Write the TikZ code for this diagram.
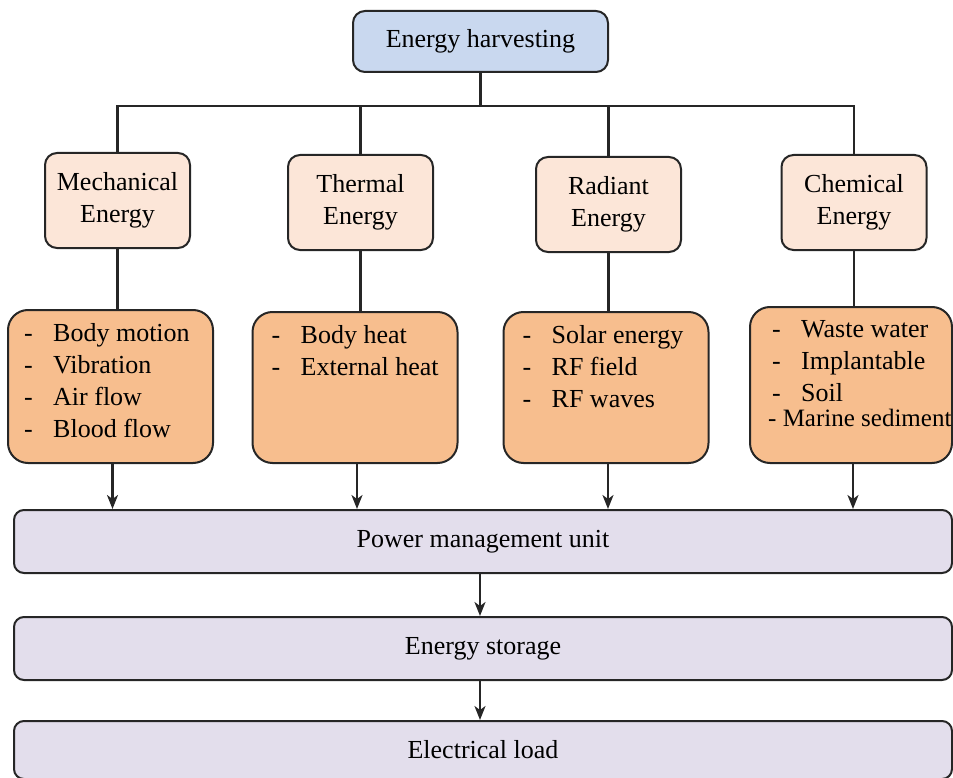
\documentclass[tikz,border=0pt]{standalone}
\usepackage{fontspec}
\setmainfont{Liberation Serif}
\usetikzlibrary{arrows.meta, positioning}

\definecolor{harvblue}{HTML}{C9D8EF}
\definecolor{kindpeach}{HTML}{FCE6D8}
\definecolor{srcorange}{HTML}{F7BE8E}
\definecolor{unitlilac}{HTML}{E3DEEC}

\newcommand{\srcitem}[1]{\makebox[29pt][l]{-}#1}

\begin{document}
\begin{tikzpicture}[x=1pt, y=-1pt,
    box/.style={draw=black!85, line width=2pt, rounded corners=12pt, align=center,
                text=black, inner sep=0pt, font=\fontsize{26}{32}\selectfont},
    harvbox/.style={box, fill=harvblue, minimum width=255pt, minimum height=61pt},
    kindbox/.style={box, fill=kindpeach, minimum width=145pt, minimum height=95pt},
    srcbox/.style={box, fill=srcorange, rounded corners=20pt, minimum width=205pt, minimum height=153pt},
    unitbox/.style={box, fill=unitlilac, rounded corners=10pt, minimum width=938pt, minimum height=63pt},
    srclist/.style={align=left, anchor=north west, inner sep=0pt, text=black,
                    font=\fontsize{26}{32}\selectfont},
    link/.style={draw=black!85, line width=2.2pt},
    arr/.style={link, -{Stealth[length=14pt, width=11pt, inset=4pt]}}]

    \useasboundingbox (0,0) rectangle (953,778);

    % top box
    \node[harvbox] (harvest) at (480.5,41.5) {Energy harvesting};

    % the four kinds of energy
    \node[kindbox] (mech)  at (117.5,200.5) {Mechanical\\Energy};
    \node[kindbox] (therm) at (360.5,202.5) {Thermal\\Energy};
    \node[kindbox] (rad)   at (608.5,204.5) {Radiant\\Energy};
    \node[kindbox] (chem)  at (854,202.5)   {Chemical\\Energy};

    % draw the tree from the top box
    \coordinate (bus) at ([yshift=-33pt]harvest.south);
    \draw[link] (harvest.south) -- (bus);
    \foreach \k in {mech, therm, rad, chem}
        \draw[link] (bus) -| (\k.north);

    % source boxes
    \node[srcbox] (mech-src)  at (110.5,386.5) {};
    \node[srcbox, minimum height=151pt] (therm-src) at (355,387.5) {};
    \node[srcbox, minimum height=151pt] (rad-src)   at (606,387.5) {};
    \node[srcbox, minimum width=202pt, minimum height=156pt] (chem-src) at (851,385) {};

    % lists of sources
    \node[srclist] (mech-list) at ([shift={(17,14)}]mech-src.north west)
        {\srcitem{Body motion}\\ \srcitem{Vibration}\\ \srcitem{Air flow}\\ \srcitem{Blood flow}};
    \node[srclist] (therm-list) at ([shift={(20,14)}]therm-src.north west)
        {\srcitem{Body heat}\\ \srcitem{External heat}};
    \node[srclist] (rad-list) at ([shift={(20,14)}]rad-src.north west)
        {\srcitem{Solar energy}\\ \srcitem{RF field}\\ \srcitem{RF waves}};
    \node[srclist] (chem-list) at ([shift={(19,14)}]chem-src.north west)
        {\hspace{4pt}\srcitem{Waste water}\\ \hspace{4pt}\srcitem{Implantable}\\ \hspace{4pt}\srcitem{Soil}\\[-7pt]
         {\fontsize{25}{30}\selectfont - Marine sediment}};

    % kind to source lines
    \foreach \k in {mech, therm, rad, chem}
        \draw[link] (\k.south) -- (\k.south |- \k-src.north);

    % bottom stack
    \node[unitbox] (pmu) at (483,541.5) {Power management unit};
    \node[unitbox, below=42pt of pmu] (storage) {Energy storage};
    \node[unitbox, below=39pt of storage, minimum height=58pt] (load) {Electrical load};

    % arrows into the stack
    \foreach \k in {mech, therm, rad, chem}
        \draw[arr] ([xshift=2pt]\k-src.south) -- ([xshift=2pt]\k-src.south |- pmu.north);
    \draw[arr] ([xshift=-3pt]pmu.south) -- ([xshift=-3pt]storage.north);
    \draw[arr] ([xshift=-3pt]storage.south) -- ([xshift=-3pt]load.north);
\end{tikzpicture}
\end{document}
